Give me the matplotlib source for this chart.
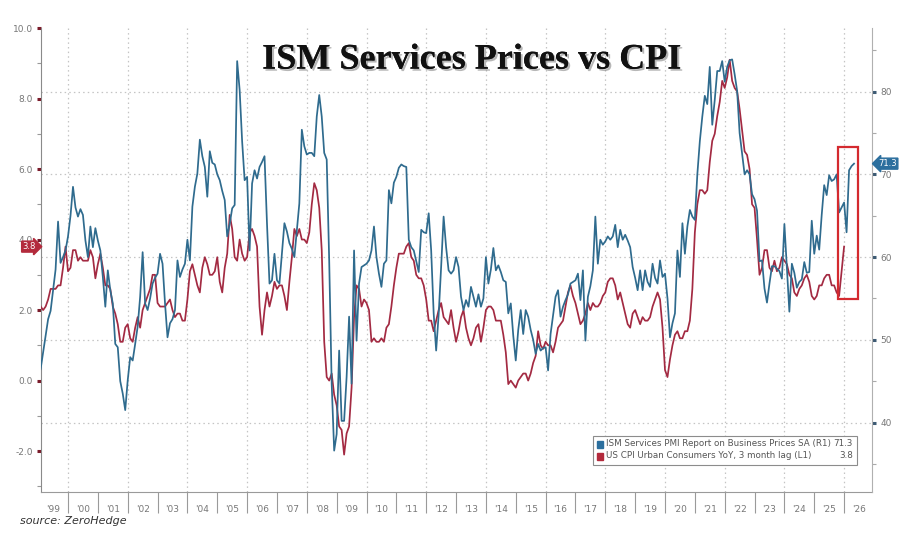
import numpy as np
import pandas as pd
import matplotlib
matplotlib.use("Agg")
import matplotlib.pyplot as plt
import matplotlib.transforms as mtransforms
import matplotlib.patheffects as pe
from matplotlib.patches import Rectangle

# ---------------- data ----------------
ism_start = "1999-01"   # ISM Services Prices (SA), monthly
ism_values = [
    45.5, 46.5, 48.5, 50.5, 52.5, 53.5, 56.0, 58.5, 64.3, 59.3, 60.0, 60.8,   # 1999
    62.5, 65.0, 68.5, 66.0, 64.9, 65.8, 65.1, 62.0, 60.0, 63.7, 61.2, 63.5,   # 2000
    62.0, 60.8, 57.6, 54.0, 58.4, 56.0, 54.4, 49.5, 49.1, 45.0, 43.5, 41.5,   # 2001
    45.1, 47.9, 47.5, 49.5, 51.6, 55.2, 60.6, 54.4, 53.6, 55.0, 56.8, 57.5,   # 2002
    58.0, 60.4, 59.2, 54.4, 50.3, 52.0, 52.5, 53.6, 59.6, 57.6, 58.5, 59.2,   # 2003
    62.1, 59.6, 66.1, 68.5, 70.1, 74.2, 72.2, 70.9, 67.3, 72.8, 71.4, 71.2,   # 2004
    70.0, 69.3, 68.0, 66.9, 62.5, 64.0, 65.9, 66.3, 83.7, 80.2, 74.0, 69.3,   # 2005
    69.7, 60.8, 68.9, 70.5, 69.5, 70.9, 71.5, 72.2, 64.0, 56.8, 57.2, 60.4,   # 2006
    57.2, 56.8, 60.5, 64.1, 63.1, 61.7, 61.0, 60.0, 63.3, 66.5, 75.4, 73.4,   # 2007
    72.4, 72.6, 72.6, 72.2, 77.0, 79.6, 77.0, 72.6, 71.8, 59.6, 44.7, 36.6,   # 2008
    38.6, 48.7, 40.2, 40.2, 45.5, 52.8, 44.7, 60.8, 49.9, 56.8, 58.8, 59.0,   # 2009
    59.2, 59.6, 60.8, 63.7, 60.0, 58.0, 56.4, 59.2, 59.6, 68.1, 66.5, 69.0,   # 2010
    69.7, 70.8, 71.2, 71.0, 70.9, 62.1, 61.2, 60.8, 59.5, 58.2, 63.3, 63.0,   # 2011
    62.9, 65.3, 60.8, 53.2, 48.7, 53.0, 58.8, 64.9, 61.2, 58.4, 58.0, 58.4,   # 2012
    60.0, 58.8, 55.2, 53.6, 54.8, 54.0, 56.4, 55.2, 54.0, 55.5, 54.0, 55.0,   # 2013
    60.0, 56.8, 58.5, 61.1, 58.4, 59.0, 58.2, 57.2, 57.0, 53.2, 54.4, 50.5,   # 2014
    47.5, 51.2, 53.6, 50.7, 53.6, 52.8, 51.2, 50.0, 48.3, 49.5, 48.7, 49.0,   # 2015
    49.1, 46.3, 50.7, 53.0, 55.2, 56.0, 52.8, 54.0, 54.8, 55.5, 56.8, 57.0,   # 2016
    57.2, 58.0, 54.8, 58.4, 49.9, 55.2, 56.5, 58.4, 64.9, 59.2, 62.1, 61.5,   # 2017
    61.9, 62.5, 62.1, 62.5, 63.9, 61.2, 63.3, 62.1, 62.7, 62.0, 61.2, 58.8,   # 2018
    57.5, 56.0, 58.4, 56.0, 58.4, 57.0, 56.4, 59.2, 57.5, 56.8, 59.6, 57.6,   # 2019
    58.0, 55.0, 50.3, 52.0, 53.2, 60.8, 57.6, 64.1, 60.4, 63.7, 65.7, 64.9,   # 2020
    64.5, 70.0, 74.0, 77.0, 79.5, 78.5, 83.0, 76.0, 79.0, 82.5, 82.5, 83.7,   # 2021
    81.2, 83.0, 83.8, 83.9, 82.1, 80.1, 75.0, 72.5, 70.0, 70.5, 70.0, 67.6,   # 2022
    67.0, 65.6, 59.5, 59.6, 56.2, 54.5, 56.8, 58.9, 58.9, 58.6, 58.3, 57.4,   # 2023
    64.0, 58.6, 53.4, 59.2, 58.1, 56.3, 57.0, 57.3, 59.4, 58.1, 58.2, 64.4,   # 2024
    60.4, 62.6, 60.9, 65.1, 68.7, 67.5, 69.9, 69.2, 69.4, 70.0, 65.4, 66.0,   # 2025
    66.6, 63.0, 70.5, 71.0, 71.3,                                             # 2026
]

cpi_start = "1999-01"   # US CPI YoY, 3 month lag
cpi_values = [
    2.3, 2.1, 2.0, 2.1, 2.3, 2.6, 2.6, 2.6, 2.7, 2.7, 3.2, 3.8,   # 1999
    3.1, 3.2, 3.7, 3.7, 3.4, 3.5, 3.4, 3.4, 3.4, 3.7, 3.5, 2.9,   # 2000
    3.3, 3.6, 3.2, 2.7, 2.7, 2.6, 2.1, 1.9, 1.6, 1.1, 1.1, 1.5,   # 2001
    1.6, 1.2, 1.1, 1.5, 1.8, 1.5, 2.0, 2.2, 2.4, 2.6, 3.0, 3.0,   # 2002
    2.2, 2.1, 2.1, 2.1, 2.2, 2.3, 2.0, 1.8, 1.9, 1.9, 1.7, 1.7,   # 2003
    2.3, 3.1, 3.3, 3.0, 2.7, 2.5, 3.2, 3.5, 3.3, 3.0, 3.0, 3.1,   # 2004
    3.5, 2.8, 2.5, 3.2, 3.6, 4.7, 4.3, 3.5, 3.4, 4.0, 3.6, 3.4,   # 2005
    3.5, 4.2, 4.3, 4.1, 3.8, 2.1, 1.3, 2.0, 2.5, 2.1, 2.4, 2.8,   # 2006
    2.6, 2.7, 2.7, 2.4, 2.0, 2.8, 3.5, 4.3, 4.1, 4.3, 4.0, 4.0,   # 2007
    3.9, 4.2, 5.0, 5.6, 5.4, 4.9, 3.7, 1.1, 0.1, 0.0, 0.2, -0.4,  # 2008
    -0.7, -1.3, -1.4, -2.1, -1.5, -1.3, -0.2, 1.8, 2.7, 2.6, 2.1, 2.3,  # 2009
    2.2, 2.0, 1.1, 1.2, 1.1, 1.1, 1.2, 1.1, 1.5, 1.6, 2.1, 2.7,   # 2010
    3.2, 3.6, 3.6, 3.6, 3.8, 3.9, 3.5, 3.4, 3.0, 2.9, 2.9, 2.7,   # 2011
    2.3, 1.7, 1.7, 1.4, 1.7, 2.0, 2.2, 1.8, 1.7, 1.6, 2.0, 1.5,   # 2012
    1.1, 1.4, 1.8, 2.0, 1.5, 1.2, 1.0, 1.2, 1.5, 1.6, 1.1, 1.5,   # 2013
    2.0, 2.1, 2.1, 2.0, 1.7, 1.7, 1.7, 1.3, 0.8, -0.1, 0.0, -0.1, # 2014
    -0.2, 0.0, 0.1, 0.2, 0.2, 0.0, 0.2, 0.5, 0.7, 1.4, 1.0, 0.9,  # 2015
    1.1, 1.0, 1.0, 0.8, 1.1, 1.5, 1.6, 1.7, 2.1, 2.5, 2.7, 2.4,   # 2016
    2.2, 1.9, 1.6, 1.7, 1.9, 2.2, 2.0, 2.2, 2.1, 2.1, 2.2, 2.4,   # 2017
    2.5, 2.8, 2.9, 2.9, 2.7, 2.3, 2.5, 2.2, 1.9, 1.6, 1.5, 1.9,   # 2018
    2.0, 1.8, 1.6, 1.8, 1.7, 1.7, 1.8, 2.1, 2.3, 2.5, 2.3, 1.5,   # 2019
    0.3, 0.1, 0.6, 1.0, 1.3, 1.4, 1.2, 1.2, 1.4, 1.4, 1.7, 2.6,   # 2020
    4.2, 5.0, 5.4, 5.4, 5.3, 5.4, 6.2, 6.8, 7.0, 7.5, 7.9, 8.5,   # 2021
    8.3, 8.6, 9.1, 8.5, 8.3, 8.2, 7.7, 7.1, 6.5, 6.4, 6.0, 5.0,   # 2022
    4.9, 4.0, 3.0, 3.2, 3.7, 3.7, 3.2, 3.1, 3.4, 3.1, 3.2, 3.5,   # 2023
    3.4, 3.3, 3.0, 2.9, 2.5, 2.4, 2.6, 2.7, 2.9, 3.0, 2.8, 2.4,   # 2024
    2.3, 2.4, 2.7, 2.7, 2.9, 3.0, 3.0, 2.7, 2.7, 2.5, 2.4, 3.1,   # 2025
    3.8,                                                          # 2026
]

year_labels = ["'99", "'00", "'01", "'02", "'03", "'04", "'05", "'06", "'07",
               "'08", "'09", "'10", "'11", "'12", "'13", "'14", "'15", "'16",
               "'17", "'18", "'19", "'20", "'21", "'22", "'23", "'24", "'25", "'26"]
first_year = 1999

title = "ISM Services Prices vs CPI"
ism_label = "ISM Services PMI Report on Business Prices SA (R1)"
cpi_label = "US CPI Urban Consumers YoY, 3 month lag (L1)"
source = "source: ZeroHedge"


def to_decimal_years(start, n):
    p = pd.period_range(start=start, periods=n, freq="M")
    return p.year + (p.month - 1) / 12.0


ism_x = to_decimal_years(ism_start, len(ism_values))
cpi_x = to_decimal_years(cpi_start, len(cpi_values))

# ---------------- style ----------------
BLUE = "#2f6b8e"
RED = "#a32a42"
TAG_BLUE = "#2c6f9e"
TAG_RED = "#b32a3c"
GRID = "#c4c4c4"

fig = plt.figure(figsize=(9.0, 5.37), dpi=100)
ax = fig.add_axes([41 / 900, 1 - 492 / 537, (872 - 41) / 900, (492 - 28) / 537])
ax2 = ax.twinx()

L0, L1 = -3.16, 10.0
R0, R1 = 31.6, 87.7
ax.set_ylim(L0, L1)
ax2.set_ylim(R0, R1)
ax.set_xlim(1999.095, 2026.935)

# gridlines (horizontal at right-axis majors, vertical at even years)
for v in [40, 50, 60, 70, 80]:
    yl = L0 + (v - R0) * (L1 - L0) / (R1 - R0)
    ax.axhline(yl, color=GRID, lw=0.9, ls=(0, (1.2, 2.5)), zorder=0)
for yr in range(2000, 2027, 2):
    ax.axvline(yr, color=GRID, lw=0.9, ls=(0, (1.2, 2.5)), zorder=0)

ax.plot(cpi_x, cpi_values, color=RED, lw=1.25, zorder=3)
ax2.plot(ism_x, ism_values, color=BLUE, lw=1.25, zorder=3)

# highlight box
ax2.add_patch(Rectangle((2025.80, 54.9), 0.67, 18.4, fill=False,
                        edgecolor="#d42a2f", lw=1.6, zorder=5))

# spines
for a in (ax, ax2):
    a.spines["top"].set_visible(False)
ax.spines["left"].set_color("#8a8a8a")
ax.spines["bottom"].set_color("#9a9a9a")
ax2.spines["right"].set_color("#b0b0b0")
ax2.spines["left"].set_visible(False)
ax2.spines["bottom"].set_visible(False)
ax.spines["right"].set_visible(False)

# left y axis
ax.set_yticks(np.arange(-2, 10.1, 2))
ax.set_yticklabels([f"{v:.1f}" for v in np.arange(-2, 10.1, 2)])
ax.set_yticks(np.arange(-3, 10, 2), minor=True)
ax.tick_params(axis="y", which="major", length=3, width=2.2, color="#7a1b2a",
               labelsize=6.5, labelcolor="#777777", pad=3)
ax.tick_params(axis="y", which="minor", length=3, width=0.8, color="#999999")

# right y axis
ax2.set_yticks([40, 50, 60, 70, 80])
ax2.set_yticklabels(["40", "50", "60", "70", "80"])
ax2.set_yticks([35, 45, 55, 65, 75, 85], minor=True)
ax2.tick_params(axis="y", which="major", length=3, width=2.2, color="#3d5a73",
                labelsize=6.5, labelcolor="#777777", pad=3)
ax2.tick_params(axis="y", which="minor", length=3, width=0.8, color="#aaaaaa")

# x axis: separators at year boundaries, labels centred in each year
ax.set_xticks(np.arange(first_year + 1, first_year + len(year_labels)))
ax.set_xticklabels([])
ax.set_xticks(np.arange(first_year, first_year + len(year_labels)) + 0.5, minor=True)
ax.set_xticklabels(year_labels, minor=True)
ax.tick_params(axis="x", which="major", length=15, width=0.8, color="#9a9a9a",
               direction="out")
ax.tick_params(axis="x", which="minor", length=0, labelsize=6.5,
               labelcolor="#777777", pad=9)

# last value tags
tr_r = mtransforms.blended_transform_factory(ax2.transAxes, ax2.transData)
ax2.text(1.0075, ism_values[-1], f"{ism_values[-1]:.1f}", transform=tr_r,
         ha="left", va="center", fontsize=6, color="white", zorder=6,
         bbox=dict(boxstyle="larrow,pad=0.12", fc=TAG_BLUE, ec=TAG_BLUE),
         clip_on=False)
tr_l = mtransforms.blended_transform_factory(ax.transAxes, ax.transData)
ax.text(-0.006, cpi_values[-1], f"{cpi_values[-1]:.1f}", transform=tr_l,
        ha="right", va="center", fontsize=6, color="white", zorder=6,
        bbox=dict(boxstyle="rarrow,pad=0.12", fc=TAG_RED, ec=TAG_RED),
        clip_on=False)

# legend (manual, Bloomberg style)
lx0, lx1 = 593 / 900, 857 / 900
ly0, ly1 = 1 - 465 / 537, 1 - 436 / 537
fig.add_artist(Rectangle((lx0, ly0), lx1 - lx0, ly1 - ly0, transform=fig.transFigure,
                         fc="white", ec="#8c8c8c", lw=0.8, zorder=10))
rows = [(ism_label, f"{ism_values[-1]:.1f}", TAG_BLUE, 1 - 444 / 537),
        (cpi_label, f"{cpi_values[-1]:.1f}", TAG_RED, 1 - 456 / 537)]
for lab, val, col, yy in rows:
    fig.add_artist(Rectangle((597 / 900, yy - 3.5 / 537), 6 / 900, 7 / 537,
                             transform=fig.transFigure, fc=col, ec=col, zorder=11))
    fig.text(606 / 900, yy, lab, fontsize=6.3, color="#555555", ha="left",
             va="center", zorder=11)
    fig.text(853 / 900, yy, val, fontsize=6.3, color="#555555", ha="right",
             va="center", zorder=11)

# title with soft shadow
fig.text(0.524, 0.888, title, fontsize=26, fontweight="bold",
         family="Liberation Serif", ha="center", va="center", color="#111111",
         path_effects=[pe.withSimplePatchShadow(offset=(1.5, -1.5),
                                                shadow_rgbFace="#888888",
                                                alpha=0.6), pe.Normal()])

fig.text(20 / 900, 1 - 521 / 537, source, fontsize=8, style="italic",
         color="#333333", ha="left", va="center")

fig.savefig("out.png", dpi=100, facecolor="white")
